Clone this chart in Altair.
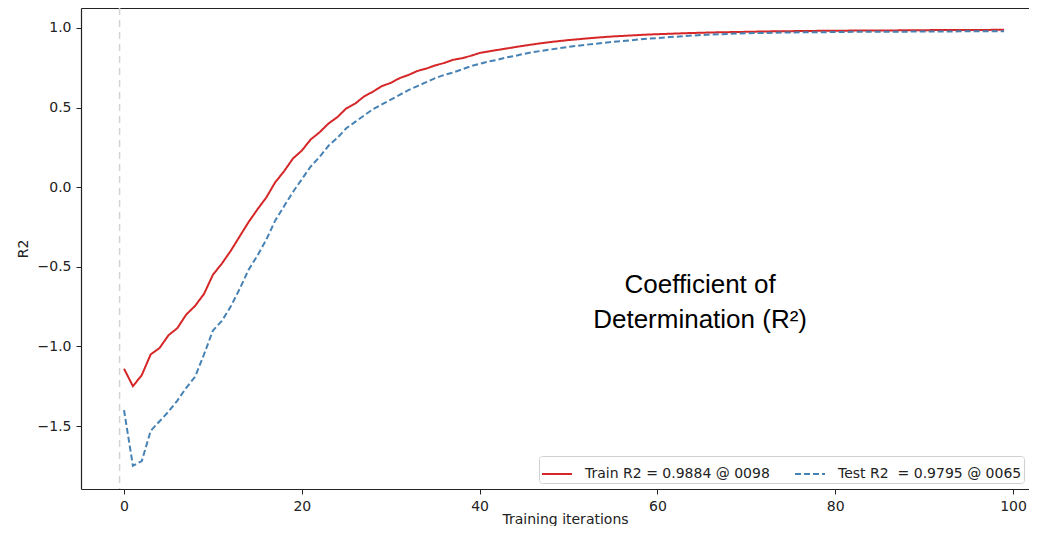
import altair as alt
import pandas as pd

iterations = list(range(100))
train_r2 = [
    -1.14, -1.25, -1.18, -1.05, -1.01, -0.93, -0.885, -0.80, -0.745, -0.67,
    -0.55, -0.48, -0.40, -0.31, -0.22, -0.14, -0.065, 0.03, 0.10, 0.18,
    0.23, 0.30, 0.345, 0.40, 0.44, 0.495, 0.525, 0.57, 0.60, 0.635,
    0.655, 0.685, 0.705, 0.73, 0.745, 0.765, 0.78, 0.80, 0.81, 0.825,
    0.843, 0.853, 0.862, 0.871, 0.88, 0.889, 0.897, 0.905, 0.912, 0.918,
    0.924, 0.929, 0.934, 0.939, 0.943, 0.947, 0.950, 0.953, 0.956, 0.959,
    0.961, 0.963, 0.965, 0.967, 0.969, 0.970, 0.972, 0.973, 0.974, 0.975,
    0.976, 0.977, 0.978, 0.979, 0.979, 0.980, 0.981, 0.981, 0.982, 0.982,
    0.983, 0.983, 0.984, 0.984, 0.984, 0.985, 0.985, 0.985, 0.986, 0.986,
    0.986, 0.987, 0.987, 0.987, 0.987, 0.988, 0.988, 0.988, 0.9884, 0.9882,
]
test_r2 = [
    -1.40, -1.75, -1.72, -1.53, -1.47, -1.41, -1.34, -1.26, -1.19, -1.05,
    -0.90, -0.84, -0.75, -0.64, -0.52, -0.43, -0.33, -0.21, -0.12, -0.03,
    0.05, 0.13, 0.19, 0.26, 0.31, 0.37, 0.41, 0.45, 0.49, 0.52,
    0.55, 0.58, 0.61, 0.635, 0.66, 0.685, 0.705, 0.72, 0.74, 0.76,
    0.775, 0.79, 0.80, 0.815, 0.825, 0.838, 0.848, 0.857, 0.865, 0.873,
    0.881, 0.888, 0.895, 0.901, 0.907, 0.913, 0.918, 0.923, 0.928, 0.933,
    0.937, 0.941, 0.945, 0.949, 0.953, 0.956, 0.959, 0.961, 0.963, 0.965,
    0.967, 0.968, 0.969, 0.970, 0.971, 0.972, 0.973, 0.973, 0.974, 0.974,
    0.975, 0.975, 0.976, 0.976, 0.976, 0.977, 0.977, 0.977, 0.977, 0.978,
    0.978, 0.978, 0.978, 0.978, 0.979, 0.979, 0.979, 0.979, 0.979, 0.979,
]
series_names = ["Train R2 = 0.9884 @ 0098", "Test R2\u00a0 = 0.9795 @ 0065"]
series_colors = ["#d62728", "#4682b4"]
series_dashes = [[1, 0], [6, 3]]

vline_x = [-0.5]
note_x = [64.8, 64.8]
note_y = [-0.615, -0.835]
note_text = ["Coefficient of", "Determination (R²)"]

x_ticks = [0, 20, 40, 60, 80, 100]
y_ticks = [-1.5, -1.0, -0.5, 0.0, 0.5, 1.0]
x_domain = [-4.84, 101.8]
y_domain = [-1.8957, 1.1256]

df = pd.DataFrame({
    "iteration": iterations + iterations,
    "r2": train_r2 + test_r2,
    "series": [series_names[0]] * len(iterations) + [series_names[1]] * len(iterations),
})
vdf = pd.DataFrame({"x": vline_x})
ndf = pd.DataFrame({"x": note_x, "y": note_y, "t": note_text})

xs = alt.Scale(domain=x_domain, nice=False, zero=False)
ys = alt.Scale(domain=y_domain, nice=False, zero=False)

vrule = alt.Chart(vdf).mark_rule(color="#d3d3d3", strokeDash=[7, 5], strokeWidth=1.5).encode(
    x=alt.X("x:Q", scale=xs,
            axis=alt.Axis(orient="top", labels=False, ticks=False, title=None, grid=False)),
)

lines = alt.Chart(df).mark_line(strokeWidth=2).encode(
    x=alt.X("iteration:Q", scale=xs,
            axis=alt.Axis(values=x_ticks, format="d", title="Training iterations",
                          grid=False, titleX=484, titleY=34, titleAlign="center",
                          titleBaseline="alphabetic")),
    y=alt.Y("r2:Q", scale=ys,
            axis=alt.Axis(values=y_ticks, format=".1f", title="R2", grid=False, titlePadding=7)),
    color=alt.Color("series:N", scale=alt.Scale(domain=series_names, range=series_colors),
                    legend=alt.Legend(title=None)),
    strokeDash=alt.StrokeDash("series:N", scale=alt.Scale(domain=series_names, range=series_dashes),
                              legend=alt.Legend(title=None)),
    order="iteration:Q",
)

notes = alt.Chart(ndf).mark_text(font="Liberation Sans", fontSize=26, color="#000000",
                                  align="center", baseline="middle").encode(
    x=alt.X("x:Q", scale=xs, axis=None),
    y=alt.Y("y:Q", scale=ys, axis=None),
    text="t:N",
)

chart = alt.layer(vrule, lines, notes).resolve_axis(x="independent", y="independent").properties(
    width=948,
    height=481,
    autosize=alt.AutoSizeParams(type="none"),
    padding={"left": 73, "top": 0, "right": 0, "bottom": 37},
).configure_view(stroke=None).configure_axis(
    labelFont="DejaVu Sans", labelFontSize=14, labelColor="#222222",
    titleFont="DejaVu Sans", titleFontSize=14, titleFontWeight="normal", titleColor="#222222",
    domainColor="#222222", tickColor="#222222", tickSize=5, labelPadding=5, domainWidth=1.2,
).configure_legend(
    orient="none", legendX=458, legendY=448,
    symbolType="stroke", symbolSize=900, symbolStrokeWidth=2,
    labelFont="DejaVu Sans", labelFontSize=14, labelColor="#222222", labelLimit=600,
    labelOffset=12, columns=2, direction="horizontal", columnPadding=21,
    padding=2, strokeColor="#d0d0d0", fillColor="white", cornerRadius=3,
)

chart.save("out.html", embed_options={"renderer": "svg", "actions": False})
